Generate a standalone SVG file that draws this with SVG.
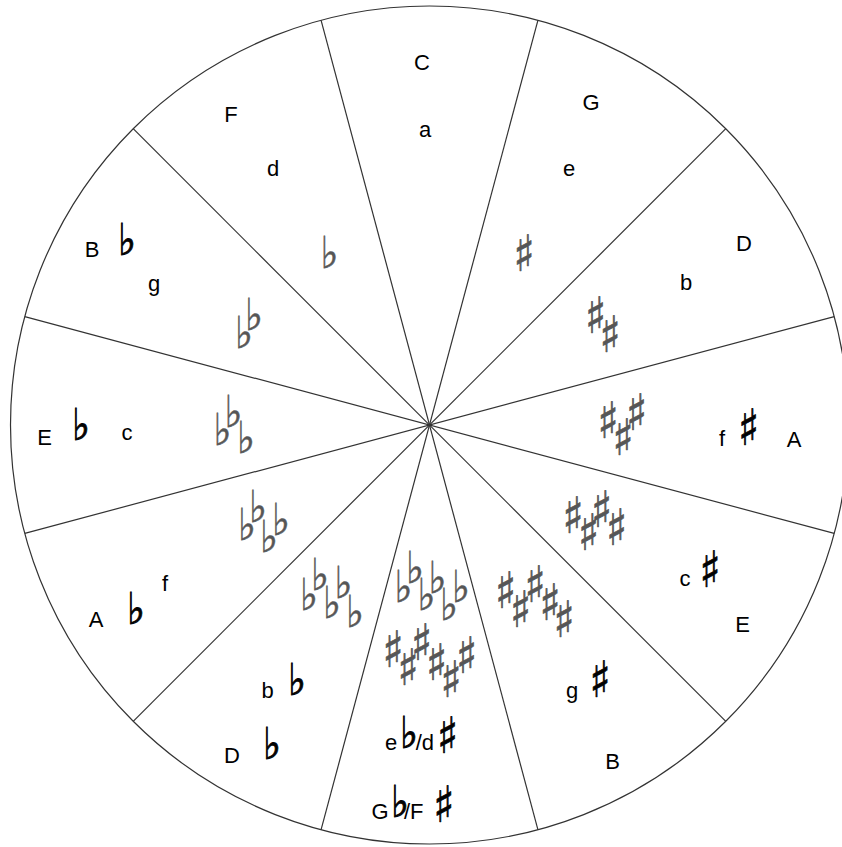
<svg xmlns="http://www.w3.org/2000/svg" width="842" height="847" viewBox="0 0 842 847">
<style>
.t{font-family:'Liberation Sans Narrow','Liberation Sans',Arial,sans-serif;font-size:22px;fill:#000;text-anchor:middle}
.ts{font-family:'Liberation Sans Narrow','Liberation Sans',Arial,sans-serif;font-size:22px;fill:#000;text-anchor:start}
.fl,.sh{font-family:'DejaVu Sans',sans-serif;font-size:40px;fill:#555;stroke:#555;text-anchor:middle;opacity:0.99}
.fl{stroke-width:0.5}
.sh{stroke-width:0.6}
.bk{fill:#000;stroke:#000}
.fl.bk{stroke-width:0.8}
.ln{stroke:#333;stroke-width:1.2;fill:none}
</style>
<rect width="842" height="847" fill="#fff"/>
<g id="connectors">
<circle class="ln" cx="429.5" cy="425" r="419"/>
<line class="ln" x1="537.9" y1="20.3" x2="321.1" y2="829.7"/>
<line class="ln" x1="725.8" y1="128.7" x2="133.2" y2="721.3"/>
<line class="ln" x1="834.2" y1="316.6" x2="24.8" y2="533.4"/>
<line class="ln" x1="834.2" y1="533.4" x2="24.8" y2="316.6"/>
<line class="ln" x1="725.8" y1="721.3" x2="133.2" y2="128.7"/>
<line class="ln" x1="537.9" y1="829.7" x2="321.1" y2="20.3"/>
</g>
<g id="key-C">
<text class="t" x="422" y="70">C</text>
<text class="t" x="425" y="137">a</text>
</g>
<g id="key-G">
<text class="t" x="591" y="110">G</text>
<text class="t" x="569" y="176">e</text>
<text class="sh" transform="scale(1.1,1.25)" x="476.36" y="216.8">♯</text>
</g>
<g id="key-D">
<text class="t" x="744" y="251">D</text>
<text class="t" x="686" y="290">b</text>
<text class="sh" transform="scale(1.1,1.25)"><tspan x="541.36" y="266.4">♯</tspan><tspan x="554.55" y="281.6">♯</tspan></text>
</g>
<g id="key-A">
<text class="t" x="794" y="447">A</text>
<text class="t" x="722" y="446">f</text>
<text class="sh bk" transform="scale(1.1,1.25)" x="680.45" y="356">♯</text>
<text class="sh" transform="scale(1.1,1.25)"><tspan x="552.73" y="350.4">♯</tspan><tspan x="566.36" y="364">♯</tspan><tspan x="578.64" y="344">♯</tspan></text>
</g>
<g id="key-E">
<text class="t" x="742.5" y="632">E</text>
<text class="t" x="685" y="586">c</text>
<text class="sh bk" transform="scale(1.1,1.25)" x="645.45" y="469.6">♯</text>
<text class="sh" transform="scale(1.1,1.25)"><tspan x="520.91" y="426.4">♯</tspan><tspan x="535" y="440">♯</tspan><tspan x="546.82" y="421.6">♯</tspan><tspan x="560.45" y="436">♯</tspan></text>
</g>
<g id="key-B">
<text class="t" x="612.5" y="769">B</text>
<text class="t" x="572" y="698">g</text>
<text class="sh bk" transform="scale(1.1,1.25)" x="545.45" y="557.6">♯</text>
<text class="sh" transform="scale(1.1,1.25)"><tspan x="459.55" y="486.4">♯</tspan><tspan x="473.18" y="501.6">♯</tspan><tspan x="486.36" y="481.6">♯</tspan><tspan x="500" y="496">♯</tspan><tspan x="512.73" y="509.6">♯</tspan></text>
</g>
<g id="key-Gb">
<text class="t" x="380" y="819">G</text>
<text class="fl bk" transform="scale(0.95,1.1)" x="421.05" y="742.73">♭</text>
<text class="ts" x="404" y="819">/F</text>
<text class="sh bk" transform="scale(1.1,1.25)" x="403.36" y="657.36">♯</text>
<text class="t" x="391" y="750">e</text>
<text class="fl bk" transform="scale(0.95,1.1)" x="430.53" y="680">♭</text>
<text class="ts" x="415.7" y="750">/d</text>
<text class="sh bk" transform="scale(1.1,1.25)" x="406.82" y="602.16">♯</text>
<text class="fl" transform="scale(0.95,1.1)"><tspan x="424.74" y="547.27">♭</tspan><tspan x="436.84" y="530">♭</tspan><tspan x="448.95" y="554.55">♭</tspan><tspan x="460.53" y="539.09">♭</tspan><tspan x="472.63" y="563.64">♭</tspan><tspan x="485.26" y="547.27">♭</tspan></text>
<text class="sh" transform="scale(1.1,1.25)"><tspan x="357.27" y="533.6">♯</tspan><tspan x="370.91" y="548">♯</tspan><tspan x="383.18" y="528">♯</tspan><tspan x="396.82" y="544">♯</tspan><tspan x="410" y="557.6">♯</tspan><tspan x="424.09" y="538.4">♯</tspan></text>
</g>
<g id="key-Db">
<text class="t" x="232" y="763">D</text>
<text class="fl bk" transform="scale(0.95,1.1)" x="286.32" y="690">♭</text>
<text class="t" x="267.5" y="698">b</text>
<text class="fl bk" transform="scale(0.95,1.1)" x="312.63" y="632.27">♭</text>
<text class="fl" transform="scale(0.95,1.1)"><tspan x="325.26" y="554.55">♭</tspan><tspan x="336.84" y="536.36">♭</tspan><tspan x="349.47" y="561.82">♭</tspan><tspan x="361.58" y="543.64">♭</tspan><tspan x="373.68" y="570">♭</tspan></text>
</g>
<g id="key-Ab">
<text class="t" x="96" y="627">A</text>
<text class="fl bk" transform="scale(0.95,1.1)" x="143.16" y="567.73">♭</text>
<text class="t" x="165" y="591">f</text>
<text class="fl" transform="scale(0.95,1.1)"><tspan x="260" y="490.91">♭</tspan><tspan x="271.58" y="474.55">♭</tspan><tspan x="283.16" y="501.82">♭</tspan><tspan x="295.79" y="486.36">♭</tspan></text>
</g>
<g id="key-Eb">
<text class="t" x="44.5" y="445">E</text>
<text class="fl bk" transform="scale(0.95,1.1)" x="85.26" y="400">♭</text>
<text class="t" x="127" y="440">c</text>
<text class="fl" transform="scale(0.95,1.1)"><tspan x="234.21" y="404.55">♭</tspan><tspan x="245.79" y="388.18">♭</tspan><tspan x="258.95" y="411.82">♭</tspan></text>
</g>
<g id="key-Bb">
<text class="t" x="92" y="257">B</text>
<text class="fl bk" transform="scale(0.95,1.1)" x="133.68" y="231.82">♭</text>
<text class="t" x="154" y="291">g</text>
<text class="fl" transform="scale(0.95,1.1)"><tspan x="256.84" y="316.36">♭</tspan><tspan x="267.37" y="300">♭</tspan></text>
</g>
<g id="key-F">
<text class="t" x="231" y="122">F</text>
<text class="t" x="273" y="176">d</text>
<text class="fl" transform="scale(0.95,1.1)" x="346.84" y="243.64">♭</text>
</g>
</svg>
